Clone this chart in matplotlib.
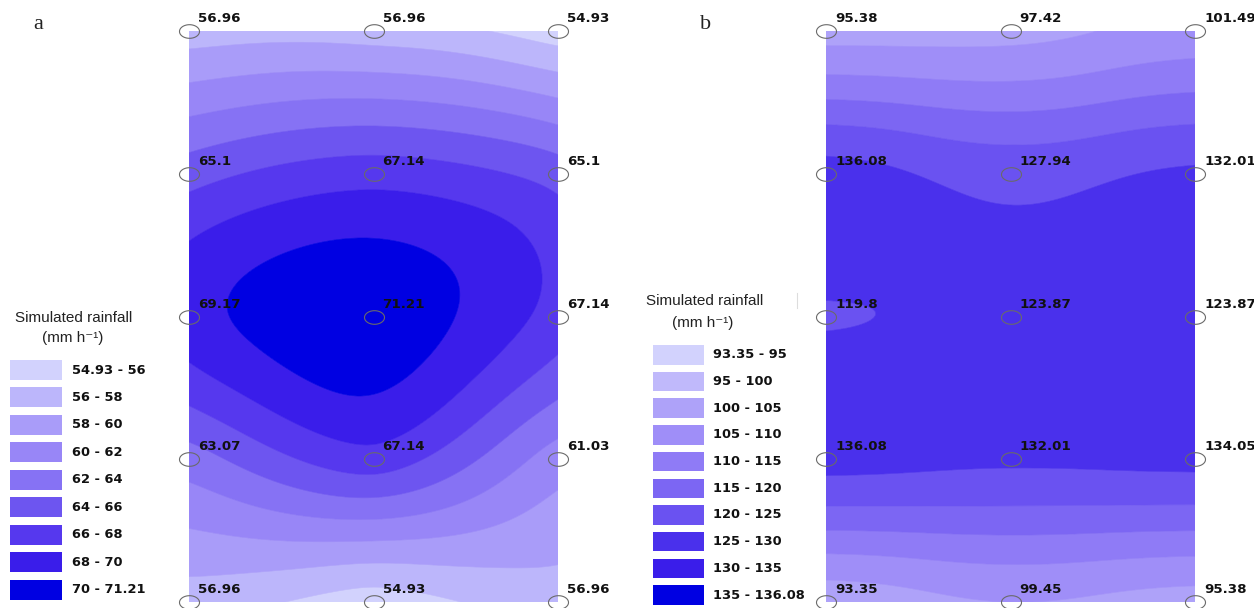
import numpy as np
import matplotlib
matplotlib.use("Agg")
import matplotlib.pyplot as plt
from matplotlib.path import Path
from matplotlib.patches import Rectangle

# ---------------- data ----------------
col_pos = [0, 1, 2]          # sampling columns (left -> right)
row_pos = [4, 3, 2, 1, 0]    # sampling rows (top -> bottom)

rain_a = [[56.96, 56.96, 54.93],
          [65.10, 67.14, 65.10],
          [69.17, 71.21, 67.14],
          [63.07, 67.14, 61.03],
          [56.96, 54.93, 56.96]]

rain_b = [[95.38, 97.42, 101.49],
          [136.08, 127.94, 132.01],
          [119.80, 123.87, 123.87],
          [136.08, 132.01, 134.05],
          [93.35, 99.45, 95.38]]

levels_a = [54.93, 56, 58, 60, 62, 64, 66, 68, 70, 71.21]
levels_b = [93.35, 95, 100, 105, 110, 115, 120, 125, 130, 135, 136.08]

colors_a = ["#d2d2fd", "#bcb6fb", "#a99cf9", "#9886f7", "#8672f4",
            "#6d55f0", "#5638ee", "#3a1dea", "#0000e2"]
colors_b = ["#d2d2fd", "#c0b9fb", "#aea2f9", "#9f8ef8", "#8f7bf6",
            "#7c66f3", "#6a52f1", "#4a30ec", "#3a1dea", "#0000e2"]

legend_title = "Simulated rainfall"
legend_unit = "(mm h\u207b\u00b9)"

# ---------------- helpers ----------------
YSCALE = 142.75 / 184.5   # physical row spacing relative to column spacing


def sample_points(vals):
    xs, ys, vs = [], [], []
    for i, r in enumerate(row_pos):
        for j, c in enumerate(col_pos):
            xs.append(c)
            ys.append(r)
            vs.append(vals[i][j])
    return np.array(xs, float), np.array(ys, float), np.array(vs, float)


def tps_surface(xs, ys, vs, gx, gy):
    px, py = xs, ys * YSCALE
    n = len(vs)

    def kern(r):
        with np.errstate(divide="ignore", invalid="ignore"):
            k = r ** 2 * np.log(r)
        return np.nan_to_num(k)

    d = np.hypot(px[:, None] - px[None, :], py[:, None] - py[None, :])
    K = kern(d)
    P = np.column_stack([np.ones(n), px, py])
    A = np.zeros((n + 3, n + 3))
    A[:n, :n] = K
    A[:n, n:] = P
    A[n:, :n] = P.T
    rhs = np.concatenate([vs, np.zeros(3)])
    sol = np.linalg.solve(A, rhs)
    w, a = sol[:n], sol[n:]
    qx, qy = gx.ravel(), gy.ravel() * YSCALE
    dq = np.hypot(qx[:, None] - px[None, :], qy[:, None] - py[None, :])
    z = kern(dq) @ w + a[0] + a[1] * qx + a[2] * qy
    return z.reshape(gx.shape)


def kernel_surface(xs, ys, vs, gx, gy, sigma=0.45):
    px, py = xs, ys * YSCALE
    qx, qy = gx.ravel(), gy.ravel() * YSCALE
    d2 = (qx[:, None] - px[None, :]) ** 2 + (qy[:, None] - py[None, :]) ** 2
    w = np.exp(-d2 / (2 * sigma ** 2))
    z = (w @ vs) / w.sum(axis=1)
    return z.reshape(gx.shape)


theta = np.linspace(0, 2 * np.pi, 80)
ellipse_marker = Path(np.column_stack([np.cos(theta), 0.68 * np.sin(theta)]), closed=True)

# ---------------- figure ----------------
W, H = 1254, 608
fig = plt.figure(figsize=(W / 100, H / 100), dpi=100)

# overlay axes in pixel coordinates for legends / panel letters
lax = fig.add_axes([0, 0, 1, 1])
lax.set_xlim(0, W)
lax.set_ylim(H, 0)
lax.axis("off")


def panel(left_px, vals, levels, colors, method):
    ax = fig.add_axes([left_px / W, 1 - 602 / H, 369 / W, 571 / H])
    xs, ys, vs = sample_points(vals)
    gx, gy = np.meshgrid(np.linspace(0, 2, 301), np.linspace(0, 4, 601))
    if method == "tps":
        gz = tps_surface(xs, ys, vs, gx, gy)
    else:
        gz = kernel_surface(xs, ys, vs, gx, gy)
    gz = np.clip(gz, levels[0] + 1e-6, levels[-1] - 1e-6)
    cs = ax.contourf(gx, gy, gz, levels=levels, colors=colors, antialiased=True)
    cs.set_edgecolor("face")
    cs.set_linewidth(0.4)
    ax.set_xlim(0, 2)
    ax.set_ylim(0, 4)
    ax.axis("off")
    ax.plot(xs, ys, linestyle="none", marker=ellipse_marker, markersize=14.4,
            markerfacecolor="none", markeredgecolor="#6a6a6a", markeredgewidth=0.8,
            clip_on=False, zorder=5)
    for x, y, v in zip(xs, ys, vs):
        ax.annotate(f"{v:g}", (x, y), xytext=(6.5, 6.3), textcoords="offset points",
                    ha="left", va="baseline", fontsize=9.6, fontweight="bold",
                    family="DejaVu Sans", color="#111111", annotation_clip=False, zorder=6)
    return ax


def legend(levels, colors, title_xy, unit_xy, patch_x, patch_w, top0, step, ph, label_x):
    lax.text(title_xy[0], title_xy[1], legend_title, ha="center", va="center",
             fontsize=11, family=["Liberation Sans", "DejaVu Sans"], color="#222222")
    lax.text(unit_xy[0], unit_xy[1], legend_unit, ha="center", va="center",
             fontsize=11, family=["Liberation Sans", "DejaVu Sans"], color="#222222")
    for k, c in enumerate(colors):
        top = top0 + k * step
        lax.add_patch(Rectangle((patch_x, top), patch_w, ph, facecolor=c,
                                edgecolor="none"))
        lax.text(label_x, top + ph / 2, f"{levels[k]:g} - {levels[k + 1]:g}",
                 ha="left", va="center", fontsize=9.4, fontweight="bold",
                 family="DejaVu Sans", color="#111111")


panel(189, rain_a, levels_a, colors_a, "tps")
panel(826, rain_b, levels_b, colors_b, "kernel")

legend(levels_a, colors_a, (73.5, 318), (73, 338), 10, 52, 360, 27.45, 20, 72)
legend(levels_b, colors_b, (705, 301), (703, 323), 653, 51, 345, 26.7, 19.5, 713)

lax.text(38, 29, "a", ha="center", va="baseline", fontsize=16,
         family="Liberation Serif", color="#222222")
lax.text(706, 29, "b", ha="center", va="baseline", fontsize=16,
         family="Liberation Serif", color="#222222")
lax.plot([797, 797], [293, 308], color="#dddddd", lw=0.8)

fig.savefig("out.png", dpi=100)
